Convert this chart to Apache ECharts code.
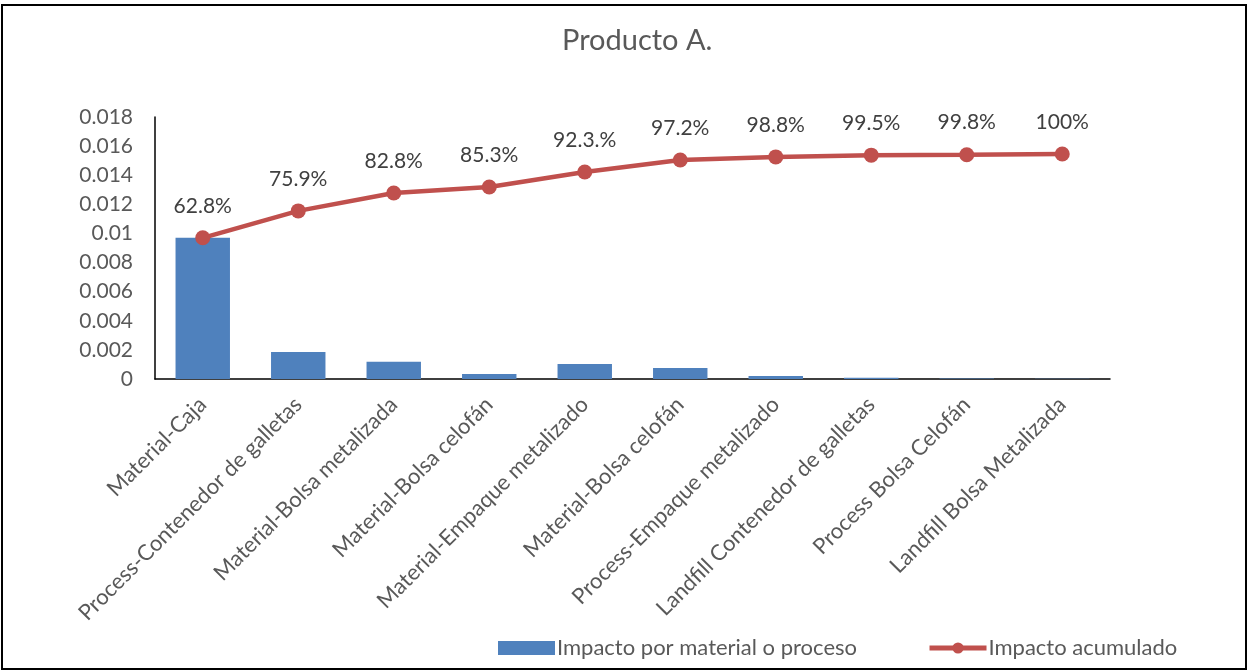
<!DOCTYPE html>
<html>
<head>
<meta charset="utf-8">
<script src="https://cdn.jsdelivr.net/npm/echarts@6/dist/echarts.min.js"></script>
<style>
  html, body { margin: 0; padding: 0; background: #fff; }
  #chart { width: 1249px; height: 671px; }
</style>
</head>
<body>
<div id="chart"></div>
<script>
// data
const categories = [
  'Material-Caja',
  'Process-Contenedor de galletas',
  'Material-Bolsa metalizada',
  'Material-Bolsa celofán',
  'Material-Empaque metalizado',
  'Material-Bolsa celofán',
  'Process-Empaque metalizado',
  'Landfill Contenedor de galletas',
  'Process Bolsa Celofán',
  'Landfill Bolsa Metalizada'
]
const impacto = [0.0097, 0.00186, 0.00118, 0.00035, 0.00103, 0.00076, 0.0002, 0.00008, 0.00003, 0.00001]
const acumulado = [0.0097, 0.01155, 0.01278, 0.01319, 0.01422, 0.01505, 0.01526, 0.01538, 0.01541, 0.01546]
const pctLabels = ['62.8%', '75.9%', '82.8%', '85.3%', '92.3.%', '97.2%', '98.8%', '99.5%', '99.8%', '100%']

const font = 'Lato'
const chart = echarts.init(document.getElementById('chart'))
const option = {
  animation: false,
  textStyle: { fontFamily: font },
  title: {
    text: 'Producto A.',
    left: 557,
    top: 21,
    textStyle: { fontFamily: font, fontSize: 29, fontWeight: 'normal', color: '#595959' }
  },
  graphic: [
    {
      type: 'rect',
      shape: { x: 2, y: 5, width: 1244, height: 664 },
      style: { fill: 'none', stroke: '#000', lineWidth: 2 },
      silent: true
    }
  ],
  grid: {
    top: 117,
    left: 155,
    right: 139,
    bottom: 292
  },
  legend: {
    bottom: 7,
    left: 493,
    itemGap: 70,
    itemWidth: 57,
    itemHeight: 14,
    textStyle: { fontFamily: font, fontSize: 22, color: '#595959', padding: [0, 0, 0, -3] },
    data: [
      { name: 'Impacto por material o proceso', icon: 'rect' },
      { name: 'Impacto acumulado', lineStyle: { width: 5 } }
    ]
  },
  xAxis: {
    type: 'category',
    data: categories,
    axisLine: { show: true, lineStyle: { color: '#000', width: 1.5 } },
    axisTick: { show: false },
    axisLabel: {
      interval: 0,
      rotate: 45,
      margin: 22,
      fontFamily: font,
      fontSize: 22,
      color: '#595959'
    }
  },
  yAxis: {
    type: 'value',
    min: 0,
    max: 0.018,
    interval: 0.002,
    splitLine: { show: false },
    axisLine: { show: true, lineStyle: { color: '#000', width: 1.5 } },
    axisTick: { show: false },
    axisLabel: {
      margin: 22,
      fontFamily: font,
      fontSize: 21,
      color: '#595959',
      formatter: v => String(+v.toFixed(3))
    }
  },
  series: [
    {
      type: 'bar',
      name: 'Impacto por material o proceso',
      data: impacto,
      barWidth: '57%',
      itemStyle: { color: '#4F81BD' }
    },
    {
      type: 'line',
      name: 'Impacto acumulado',
      data: acumulado,
      symbol: 'circle',
      symbolSize: 15,
      lineStyle: { color: '#C0504D', width: 4.5 },
      itemStyle: { color: '#C0504D' },
      label: {
        show: true,
        position: 'top',
        distance: 14,
        fontFamily: font,
        fontSize: 21,
        color: '#404040',
        formatter: p => pctLabels[p.dataIndex]
      }
    }
  ]
}
chart.setOption(option)
</script>
</body>
</html>
